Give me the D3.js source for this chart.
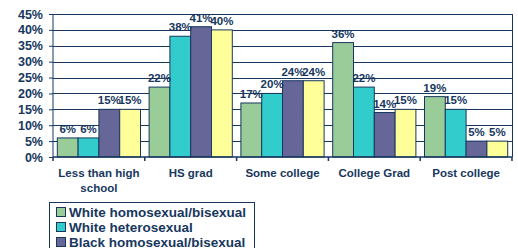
<!DOCTYPE html>
<html>
<head>
<meta charset="utf-8">
<script src="https://cdn.jsdelivr.net/npm/d3@7"></script>
<style>
  body { margin: 0; background: #fff; }
  text { font-family: Arial, "Liberation Sans", sans-serif; font-weight: bold; fill: #17375e; }
</style>
</head>
<body>
<svg id="chart" width="518" height="248"></svg>
<script>
// education level by group, percent
var categories = ["Less than high|school", "HS grad", "Some college", "College Grad", "Post college"];
var series = ["White homosexual/bisexual", "White heterosexual", "Black homosexual/bisexual", "Black heterosexual"];
var whiteGay = [6, 22, 17, 36, 19];
var whiteHet = [6, 38, 20, 22, 15];
var blackGay = [15, 41, 24, 14, 5];
var blackHet = [15, 40, 24, 15, 5];
var colours = ["#99cc99", "#33cccc", "#666699", "#ffff99"];
var yTicks = [0, 5, 10, 15, 20, 25, 30, 35, 40, 45];

var values = [whiteGay, whiteHet, blackGay, blackHet];
var navy = "#17375e";

var svg = d3.select("#chart");
var plotLeft = 53, plotRight = 512, plotTop = 14, plotBottom = 157;

var x = d3.scaleBand().domain(d3.range(categories.length)).range([plotLeft, plotRight]);
var xs = d3.scaleBand().domain(d3.range(series.length)).range([4.3, x.bandwidth() - 4.3]);
var y = d3.scaleLinear().domain([0, 45]).range([plotBottom, plotTop]);

// gridlines
svg.append("g").selectAll("line").data(yTicks.slice(1)).enter().append("line")
   .attr("x1", plotLeft).attr("x2", plotRight)
   .attr("y1", function(d) { return Math.round(y(d)) + 0.5; })
   .attr("y2", function(d) { return Math.round(y(d)) + 0.5; })
   .attr("stroke", navy).attr("stroke-width", 1);
svg.append("line").attr("x1", plotRight + 0.5).attr("x2", plotRight + 0.5)
   .attr("y1", plotTop).attr("y2", plotBottom)
   .attr("stroke", navy);

// bars
var groups = svg.append("g").selectAll("g").data(categories).enter().append("g")
   .attr("transform", function(d, i) { return "translate(" + x(i) + ",0)"; });
groups.each(function(c, ci) {
    var g = d3.select(this);
    var rows = series.map(function(s, si) { return {si: si, v: values[si][ci]}; });
    g.selectAll("rect").data(rows).enter().append("rect")
     .attr("x", function(d) { return xs(d.si); })
     .attr("width", xs.bandwidth())
     .attr("y", function(d) { return y(d.v); })
     .attr("height", function(d) { return plotBottom - y(d.v); })
     .attr("fill", function(d) { return colours[d.si]; })
     .attr("stroke", navy).attr("stroke-width", 1);
    g.selectAll("text").data(rows).enter().append("text")
     .attr("x", function(d) { return xs(d.si) + xs.bandwidth() / 2; })
     .attr("y", function(d) { return y(d.v) - 5; })
     .attr("text-anchor", "middle")
     .style("font-size", "11.5px")
     .text(function(d) { return d.v + "%"; });
});

// y axis
var yAxis = svg.append("g").attr("transform", "translate(" + plotLeft + ",0)")
   .call(d3.axisLeft(y).tickValues(yTicks).tickSize(4).tickPadding(6)
         .tickFormat(function(d) { return d + "%"; }));
yAxis.select(".domain").attr("stroke", navy).attr("d", "M0," + plotTop + "V" + (plotBottom + 0.5));
yAxis.selectAll(".tick line").attr("stroke", navy);
yAxis.selectAll("text").style("font-size", "12.5px").style("font-family", "Arial, 'Liberation Sans', sans-serif")
     .attr("fill", navy);

// x axis
var xAxis = svg.append("g").attr("transform", "translate(0," + plotBottom + ")");
xAxis.append("line").attr("x1", plotLeft).attr("x2", plotRight).attr("stroke", navy).attr("stroke-width", 1.5);
xAxis.selectAll("line.tk").data(d3.range(categories.length + 1)).enter().append("line")
     .attr("class", "tk")
     .attr("x1", function(i) { return plotLeft + i * x.step(); })
     .attr("x2", function(i) { return plotLeft + i * x.step(); })
     .attr("y1", 0).attr("y2", 4).attr("stroke", navy).attr("stroke-width", 1.5);
xAxis.selectAll("text").data(categories).enter().append("text")
     .attr("text-anchor", "middle")
     .attr("x", function(d, i) { return x(i) + x.bandwidth() / 2; })
     .attr("y", 20)
     .style("font-size", "11.5px")
     .each(function(d) {
         var t = d3.select(this);
         d.split("|").forEach(function(line, li) {
             t.append("tspan").attr("x", t.attr("x")).attr("dy", li ? 15 : 0).text(line);
         });
     });

// legend
var legend = svg.append("g").attr("transform", "translate(49,202)");
legend.append("rect").attr("x", 0.5).attr("y", 0.5).attr("width", 205).attr("height", 70)
      .attr("fill", "none").attr("stroke", navy);
var items = legend.selectAll("g").data(series).enter().append("g")
      .attr("transform", function(d, i) { return "translate(7," + (10 + i * 15) + ")"; });
items.append("rect").attr("x", 0.5).attr("y", -4.5).attr("width", 9).attr("height", 9)
     .attr("fill", function(d, i) { return colours[i]; }).attr("stroke", navy);
items.append("text").attr("x", 13).attr("y", 5).style("font-size", "13.5px")
     .text(function(d) { return d; });
</script>
</body>
</html>
